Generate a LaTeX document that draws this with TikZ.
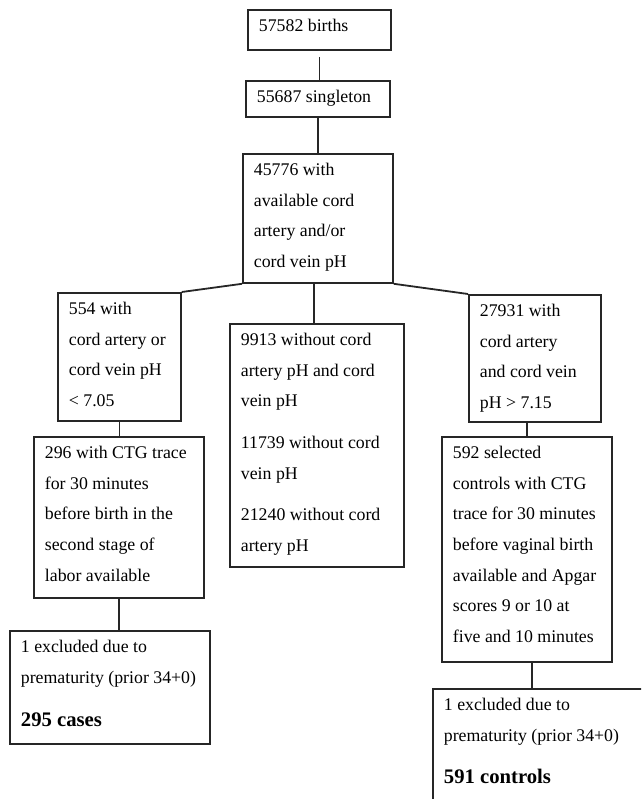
\documentclass[tikz,border=0pt]{standalone}
\usepackage{fontspec}
\setmainfont{Liberation Serif}
\usepackage{tikz}
\newcommand{\boxtext}[3]{\parbox[t][#2][t]{#1}{\strut#3}}

\begin{document}
\begin{tikzpicture}[x=1pt,y=-1pt,line width=1.8pt]
        \tikzstyle{box}=[draw=black!85,anchor=north west,inner xsep=11pt,inner ysep=0pt,
            font=\fontsize{17.8}{30.7}\selectfont]
        \tikzstyle{every edge}=[draw=black!85]

        \useasboundingbox (0,0) rectangle (641,799);
        \clip (0,0) rectangle (641,799);

        \node[box] (births) at (247,9) {\boxtext{121pt}{40pt}{57582 births}};
        \node[box] (single) at (245,80) {\boxtext{122pt}{36pt}{55687 singleton}};
        \node[box] (avail) at (242,153) {\boxtext{128pt}{129pt}{45776 with\\available cord\\artery and/or\\cord vein pH}};
        \node[box] (low) at (57,292) {\boxtext{101pt}{128pt}{554 with\\cord artery or\\cord vein pH\\< 7.05}};
        \node[box] (ctg) at (33,436) {\boxtext{148pt}{161pt}{296 with CTG trace\\for 30 minutes\\before birth in the\\second stage of\\labor available}};
        \node[box] (cases) at (9,630) {\boxtext{178pt}{113pt}{1 excluded due to\\prematurity (prior 34+0)\\[13pt]{\fontsize{20.7}{30.7}\selectfont\bfseries 295 cases}}};
        \node[box] (without) at (229,323) {\boxtext{152pt}{243pt}{9913 without cord\\artery pH and cord\\vein pH\\[11pt]11739 without cord\\vein pH\\[11pt]21240 without cord\\artery pH}};
        \node[box] (high) at (468,294) {\boxtext{110pt}{127pt}{27931 with\\cord artery\\and cord vein\\pH > 7.15}};
        \node[box] (sel) at (441,436) {\boxtext{148pt}{225pt}{592 selected\\controls with CTG\\trace for 30 minutes\\before vaginal birth\\available and Apgar\\scores 9 or 10 at\\five and 10 minutes}};
        \node[box] (controls) at (432,688) {\boxtext{200pt}{140pt}{1 excluded due to\\prematurity (prior 34+0)\\[12pt]{\fontsize{20.7}{30.7}\selectfont\bfseries 591 controls}}};

        \path (births.south) edge[shorten <=6pt] (births.south |- single.north)
              (single.south) edge (avail.north)
              (avail.south west) edge (low.north east)
              ([xshift=-4pt]avail.south) edge ([xshift=-4pt]avail.south |- without.north)
              (avail.south east) edge (high.north west)
              (low.south) edge (low.south |- ctg.north)
              (ctg.south) edge (ctg.south |- cases.north)
              (sel.north |- high.south) edge (sel.north)
              ([xshift=5pt]sel.south) edge ([xshift=5pt]sel.south |- controls.north);
    \end{tikzpicture}
\end{document}
